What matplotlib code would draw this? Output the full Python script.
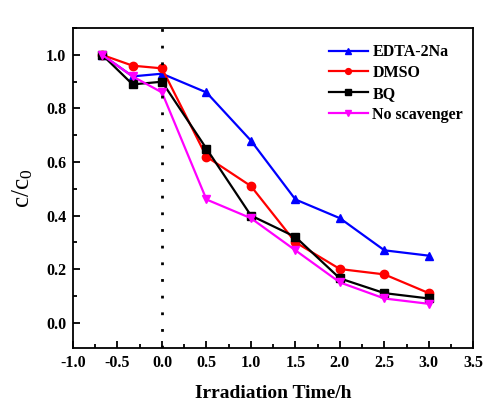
import matplotlib
matplotlib.use("Agg")
import matplotlib.pyplot as plt
from matplotlib.ticker import MultipleLocator

plt.rcParams['font.family'] = ['Liberation Serif', 'DejaVu Serif']
plt.rcParams['mathtext.fontset'] = 'custom'
plt.rcParams['mathtext.rm'] = 'Liberation Serif'
plt.rcParams['mathtext.it'] = 'Liberation Serif'
plt.rcParams['axes.unicode_minus'] = False

# data
time = [-0.67, -0.33, 0.0, 0.5, 1.0, 1.5, 2.0, 2.5, 3.0]
edta = [1.00, 0.92, 0.93, 0.86, 0.68, 0.46, 0.39, 0.27, 0.25]
dmso = [1.00, 0.96, 0.95, 0.62, 0.51, 0.30, 0.20, 0.18, 0.11]
bq = [1.00, 0.89, 0.90, 0.65, 0.40, 0.32, 0.165, 0.11, 0.09]
none = [1.00, 0.92, 0.86, 0.46, 0.39, 0.27, 0.15, 0.09, 0.07]

fig = plt.figure(figsize=(4.85, 4.03), dpi=100)
ax = fig.add_axes([0.1505, 0.1365, 0.8255, 0.7935])

ax.plot(time, edta, '-^', color='#0000ff', lw=1.6, ms=6, label='EDTA-2Na')
ax.plot(time, dmso, '-o', color='#ff0000', lw=1.6, ms=6, label='DMSO')
ax.plot(time, bq, '-s', color='black', lw=1.6, ms=5.5, label='BQ')
ax.plot(time, none, '-v', color='#ff00ff', lw=1.6, ms=6, label='No scavenger')

# start of irradiation
ax.axvline(0, color='black', lw=2, ls=(0, (1, 5)))

ax.set_xlim(-1.0, 3.5)
ax.set_ylim(-0.095, 1.1)
ax.xaxis.set_major_locator(MultipleLocator(0.5))
ax.xaxis.set_minor_locator(MultipleLocator(0.25))
ax.yaxis.set_major_locator(MultipleLocator(0.2))
ax.yaxis.set_minor_locator(MultipleLocator(0.1))
ax.tick_params(which='both', direction='in', width=1.3)
ax.tick_params(which='major', length=5, labelsize=11.5, pad=5)
ax.tick_params(which='minor', length=3)
for lab in ax.get_xticklabels() + ax.get_yticklabels():
    lab.set_fontweight('bold')
for sp in ax.spines.values():
    sp.set_linewidth(1.3)

ax.set_xlabel('Irradiation Time/h', fontsize=14, fontweight='bold', labelpad=10)
ax.set_ylabel(r'$\mathrm{c/c_0}$', fontsize=18, labelpad=8)

ax.legend(loc='upper left', frameon=False, prop={'weight': 'bold', 'size': 11.5},
          handlelength=2.4, handletextpad=0.3, labelspacing=0.3, markerscale=0.7,
          bbox_to_anchor=(0.62, 0.975), borderpad=0)

fig.savefig('out.png', dpi=100)
